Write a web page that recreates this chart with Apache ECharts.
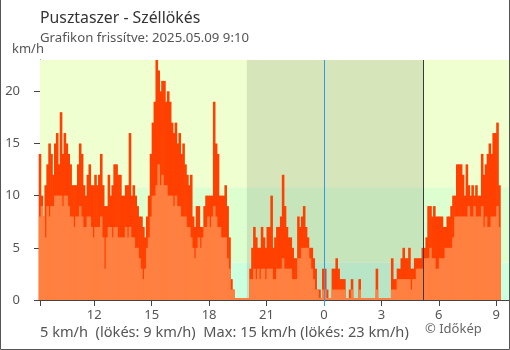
<!DOCTYPE html>
<html><head><meta charset="utf-8">
<script src="https://cdn.jsdelivr.net/npm/echarts@6/dist/echarts.min.js"></script>
<style>html,body{margin:0;padding:0;background:#fff}#c{width:510px;height:350px}</style>
</head><body><div id="c"></div>
<script>
// time of first sample (hours, day 1) and sample spacing (hours)
const startHour = 9 + 10/60;
const stepHours = 0.1;
const spanHours = 24.5;

// gusts (km/h), one value per 6 minutes from 9:10 to 9:10 next day
const gust = [
 14,10,8,11,13,15,14,12,15,16,
 13,18,14,16,15,14,13,11,11,11,
 13,15,14,11,10,12,13,11,11,12,
 11,12,14,11,9,9,12,10,11,13,
 13,12,12,10,10,11,11,16,10,11,
 10,9,8,8,7,6,8,10,14,17,
 19,23,22,20,21,21,19,20,19,17,
 16,17,15,16,14,15,13,12,11,12,
 8,7,9,9,7,7,9,10,10,10,
 10,19,15,14,10,10,10,11,9,6,
 2,1,0,0,0,0,0,0,0,0,
 3,5,7,6,5,5,7,6,5,7,
 7,10,5,6,7,7,8,12,9,7,
 6,6,5,4,4,8,7,8,9,7,
 6,5,5,4,3,1,1,0,3,3,
 1,0,0,3,3,4,3,2,2,2,
 0,0,1,2,0,0,0,2,0,0,
 0,0,0,0,0,0,3,0,0,0,
 0,0,0,0,4,2,2,3,3,4,
 5,4,4,5,3,3,4,4,4,4,
 5,5,6,9,9,8,9,8,8,8,
 8,7,7,8,8,9,10,10,13,13,
 13,12,10,13,11,10,11,10,11,10,
 10,14,12,13,14,15,14,16,16,17,11
];
// average wind (km/h), same timestamps
const avg = [
 8,9,8,6,9,8,9,9,10,10,
 10,10,9,10,10,9,8,8,7,8,
 8,9,8,7,7,8,8,7,6,7,
 7,7,8,6,3,6,7,7,6,7,
 7,6,6,6,6,7,6,7,6,6,
 5,5,4,3,2,3,5,6,8,10,
 10,11,13,11,12,11,11,10,10,10,
 9,10,9,9,8,8,8,7,7,6,
 5,4,5,6,5,6,7,7,8,7,
 8,9,8,7,7,6,6,6,4,3,
 1,1,0,0,0,0,0,0,0,0,
 2,2,3,2,3,2,3,3,2,3,
 3,3,2,2,3,3,3,4,3,3,
 3,3,2,2,2,4,4,5,5,5,
 5,4,3,2,1,1,0,0,1,1,
 0,0,0,1,1,1,1,1,1,1,
 0,0,0,1,0,0,0,1,0,0,
 0,0,0,0,0,0,1,0,0,0,
 0,0,0,0,1,1,1,2,2,2,
 2,2,2,2,1,2,2,3,3,3,
 3,4,4,4,5,4,4,3,3,4,
 4,4,5,5,5,5,6,8,8,8,
 8,8,8,8,9,8,8,9,8,8,
 8,9,7,8,7,7,8,8,8,9,7
];

const xTickHours = [12,15,18,21,24,27,30,33];
const yTicks = [0,5,10,15,20];
const yMax = 23;
const bandLimits = [0, 3.6, 10.8, 23];
const nightStart = 19.97, midnight = 24, sunrise = 29.2;

const FONT = 'Noto Sans';
const toPairs = arr => arr.map((v,i) => [startHour + i*stepHours, v]);
const bandColors = ['#ccffdd','#ddffd0','#efffd0'];
const bandAreas = bandColors.map((c,k) => [{yAxis: bandLimits[k], itemStyle:{color:c}}, {yAxis: bandLimits[k+1]}]);

const chart = echarts.init(document.getElementById('c'), null, {renderer:'canvas'});
chart.setOption({
  animation: false,
  backgroundColor: '#fff',
  title: [
    {text:'Pusztaszer - Széllökés', left:40, top:10, padding:0, textStyle:{fontFamily:FONT, fontSize:15.8, fontWeight:'normal', color:'#333'}},
    {text:'Grafikon frissítve: 2025.05.09 9:10', left:40, top:32, padding:0, textStyle:{fontFamily:FONT, fontSize:13.2, fontWeight:'normal', color:'#555'}},
    {text:'km/h', left:12, top:43, padding:0, textStyle:{fontFamily:FONT, fontSize:13, fontWeight:'normal', color:'#555'}},
    {text:'5 km/h  (lökés: 9 km/h)  Max: 15 km/h (lökés: 23 km/h)', left:40, top:325, padding:0, textStyle:{fontFamily:FONT, fontSize:14.6, fontWeight:'normal', color:'#555'}},
    {text:'© Időkép', left:425, top:323, padding:0, textStyle:{fontFamily:FONT, fontSize:13, fontWeight:'normal', color:'#666'}}
  ],
  grid: {left:40, right:1, top:60, bottom:50, containLabel:false},
  xAxis: [
    {type:'value', min:startHour, max:startHour+spanHours, position:'bottom',
     axisLine:{show:true, onZero:false, lineStyle:{color:'#444', width:1}},
     axisTick:{show:true, length:6, customValues:[startHour].concat(xTickHours), lineStyle:{color:'#444'}},
     axisLabel:{show:true, customValues:xTickHours, margin:9, color:'#555', fontSize:13, fontFamily:FONT,
       formatter: v => String(Math.round(v) % 24)},
     splitLine:{show:false}},
    {type:'value', min:startHour, max:startHour+spanHours, position:'bottom',
     axisLine:{show:false}, axisTick:{show:true, length:6, customValues:[midnight], lineStyle:{color:'#2d9be8'}},
     axisLabel:{show:false}, splitLine:{show:false}}
  ],
  yAxis: [
    {type:'value', min:0, max:yMax,
     axisLine:{show:true, onZero:false, lineStyle:{color:'#444', width:1}},
     axisTick:{show:true, length:6, customValues:yTicks, lineStyle:{color:'#444'}},
     axisLabel:{show:true, customValues:yTicks, margin:20, color:'#555', fontSize:13, fontFamily:FONT},
     splitLine:{show:false}},
    {type:'value', min:0, max:yMax, position:'left',
     axisLine:{show:false}, axisTick:{show:true, inside:true, length:6, customValues:yTicks, lineStyle:{color:'#444'}},
     axisLabel:{show:false}, splitLine:{show:false}}
  ],
  series: [
    {type:'line', name:'bg', z:0, data:[[startHour,0]], showSymbol:false, lineStyle:{width:0}, silent:true,
     markArea:{silent:true, data: bandAreas.concat([[{xAxis:nightStart, itemStyle:{color:'rgba(0,0,0,0.1)'}}, {xAxis:sunrise}]])},
     markLine:{silent:true, symbol:['none','none'], label:{show:false}, lineStyle:{type:'solid', width:1, color:'#3a3a3a'}, data:[{xAxis:sunrise}]}},
    {type:'bar', name:'gust', z:2, data:toPairs(gust), barWidth:2.6, barGap:'-100%', silent:true,
     itemStyle:{color:'#ff4000'}},
    {type:'bar', name:'avg', z:3, data:toPairs(avg), barWidth:2.6, barGap:'-100%', barMinHeight:2, silent:true,
     itemStyle:{color:'#ff8040'}},
    {type:'line', name:'marks', z:5, data:[[startHour,0]], showSymbol:false, lineStyle:{width:0}, silent:true,
     markLine:{silent:true, symbol:['none','none'], label:{show:false}, lineStyle:{type:'solid', width:1, color:'#2d9be8'}, data:[{xAxis:midnight}]}}
  ],
  graphic: [
    {type:'rect', silent:true, z:100, shape:{x:0.5, y:-1, width:509, height:350.5}, style:{fill:'transparent', stroke:'#555', lineWidth:1}}
  ]
});
</script>
</body></html>
